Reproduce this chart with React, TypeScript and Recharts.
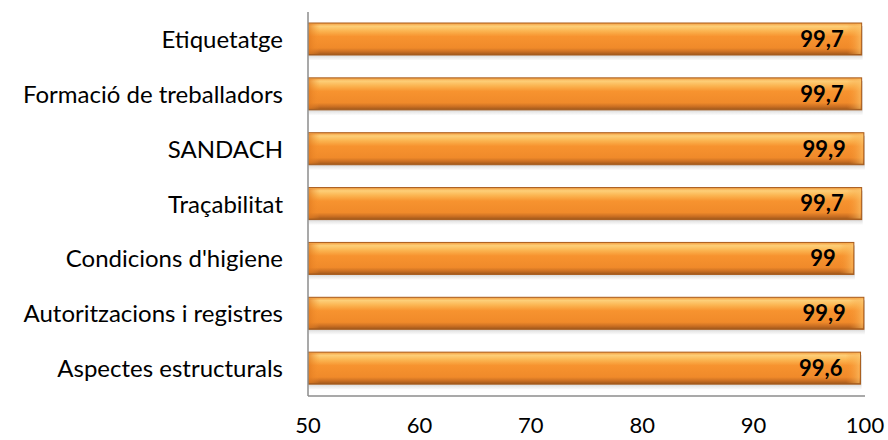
import { BarChart, Bar, XAxis, YAxis, LabelList } from 'recharts';

const categories = [
  'Etiquetatge',
  'Formació de treballadors',
  'SANDACH',
  'Traçabilitat',
  "Condicions d'higiene",
  'Autoritzacions i registres',
  'Aspectes estructurals',
];
const values = [99.7, 99.7, 99.9, 99.7, 99, 99.9, 99.6];
const xTicks = [50, 60, 70, 80, 90, 100];

const data = categories.map((name, i) => ({ name, value: values[i] }));

const FONT = 'Lato, "Open Sans", sans-serif';

function BevelBar(props: any) {
  const { x, y, width, height } = props;
  if (!width || !height) return null;
  return (
    <g>
      <rect x={x + 1} y={y + 3} width={width} height={height + 2} fill="url(#barShadow)" />
      <rect
        x={x}
        y={y}
        width={width}
        height={height}
        fill="url(#barGrad)"
        stroke="#a85c1c"
        strokeWidth={1}
      />
      <rect x={x + 1} y={y + 1} width={width - 2} height={height - 2} fill="url(#barEnds)" />
    </g>
  );
}

export default function App() {
  return (
    <div style={{ position: 'absolute', left: 0, top: 0, width: 888, height: 440, background: '#fff' }}>
      <svg width={0} height={0} style={{ position: 'absolute' }}>
        <defs>
          <linearGradient id="barGrad" x1="0" y1="0" x2="0" y2="1">
            <stop offset="0%" stopColor="#f39a3c" />
            <stop offset="10%" stopColor="#fdcf78" />
            <stop offset="25%" stopColor="#fbb450" />
            <stop offset="42%" stopColor="#f7932f" />
            <stop offset="78%" stopColor="#f08a2a" />
            <stop offset="90%" stopColor="#c96e22" />
            <stop offset="100%" stopColor="#9c561a" />
          </linearGradient>
          <linearGradient id="barEnds" x1="0" y1="0" x2="1" y2="0">
            <stop offset="0%" stopColor="#e07a20" stopOpacity={0.7} />
            <stop offset="2%" stopColor="#f7932f" stopOpacity={0} />
            <stop offset="97.5%" stopColor="#f7932f" stopOpacity={0} />
            <stop offset="100%" stopColor="#fbc066" stopOpacity={0.7} />
          </linearGradient>
          <linearGradient id="barShadow" x1="0" y1="0" x2="0" y2="1">
            <stop offset="85%" stopColor="#cfcfcf" stopOpacity={0.9} />
            <stop offset="100%" stopColor="#f0f0f0" stopOpacity={0.4} />
          </linearGradient>
        </defs>
      </svg>
      <BarChart
        width={888}
        height={440}
        data={data}
        layout="vertical"
        margin={{ top: 12, right: 23, left: 0, bottom: 0 }}
      >
        <XAxis
          type="number"
          domain={[50, 100]}
          ticks={xTicks}
          allowDataOverflow
          tickLine={false}
          tickSize={0}
          tickMargin={21}
          height={44}
          axisLine={{ stroke: '#8c8c8c', strokeWidth: 1.5 }}
          tick={{ fontSize: 22, fill: '#000', fontFamily: FONT }}
        />
        <YAxis
          type="category"
          dataKey="name"
          width={308}
          tickLine={false}
          tickSize={0}
          tickMargin={25}
          axisLine={{ stroke: '#8c8c8c', strokeWidth: 1.5 }}
          tick={{ fontSize: 24, fill: '#000', fontFamily: FONT }}
        />
        <Bar dataKey="value" shape={BevelBar} barSize={32} isAnimationActive={false}>
          <LabelList
            dataKey="value"
            position="insideRight"
            offset={18}
            formatter={(v: any) => String(v).replace('.', ',')}
            style={{ fontSize: 22, fontWeight: 700, fill: '#000', fontFamily: FONT }}
          />
        </Bar>
      </BarChart>
    </div>
  );
}
